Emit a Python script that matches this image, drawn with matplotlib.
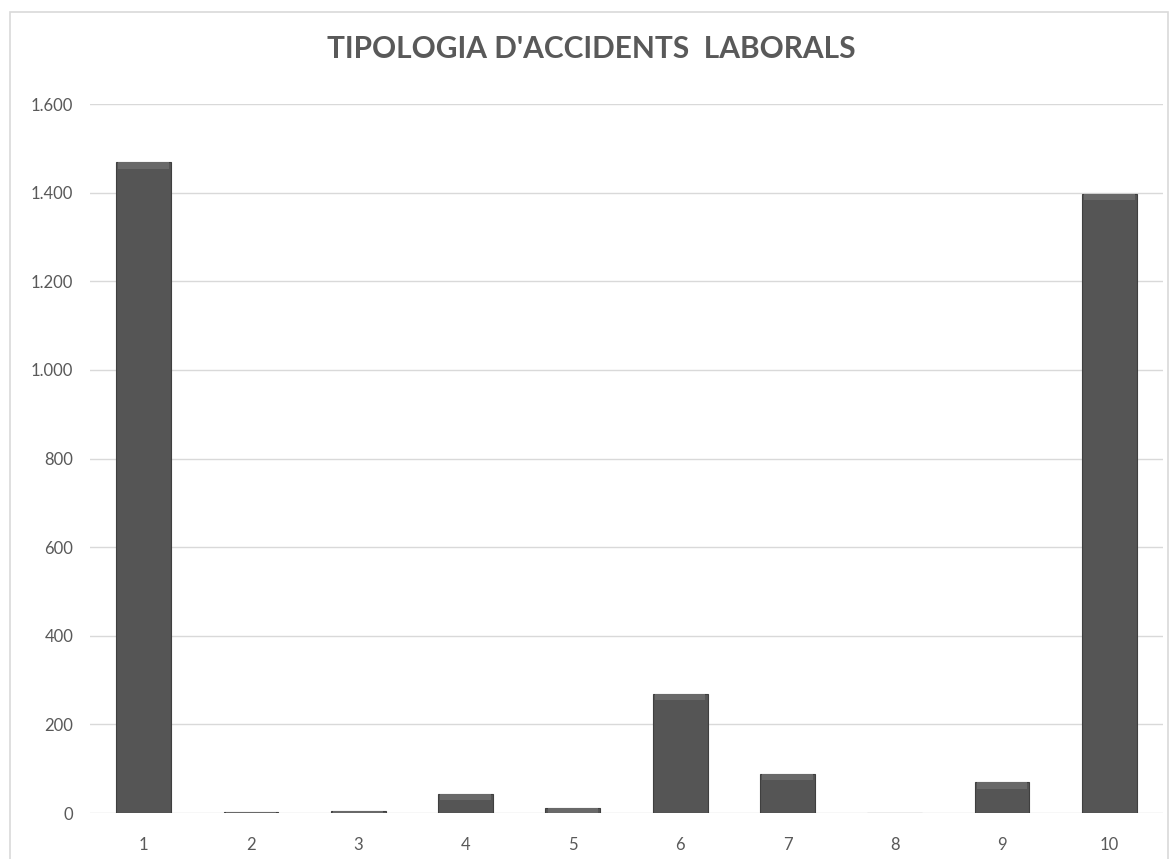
import matplotlib
matplotlib.use("Agg")
import matplotlib.pyplot as plt
from matplotlib.patches import Rectangle
from matplotlib.ticker import FuncFormatter

# tipologia 1..10
categories = ["1", "2", "3", "4", "5", "6", "7", "8", "9", "10"]
values = [1468, 3, 4, 44, 11, 268, 88, 0, 69, 1398]
yticks = [0, 200, 400, 600, 800, 1000, 1200, 1400, 1600]
title = "TIPOLOGIA D'ACCIDENTS  LABORALS"

plt.rcParams["font.family"] = ["Lato", "DejaVu Sans"]
txt = "#595959"
grid = "#d9d9d9"

fig = plt.figure(figsize=(11.76, 8.59), dpi=100)
fig.patches.append(Rectangle((10 / 1176, -0.05), 1158 / 1176, 1.05 - 12 / 859,
                             transform=fig.transFigure, fill=False,
                             edgecolor=grid, linewidth=1.2))
ax = fig.add_axes([90 / 1176, 46 / 859, 1073 / 1176, 709 / 859])

x = range(len(categories))
ax.bar(x, values, width=0.51, color="#555555", edgecolor="#3f3f3f",
       linewidth=0.8, zorder=3)
# lighter bevel at the top of each bar
tops = [max(v - 14, 0) for v in values]
ax.bar(x, [v - t for v, t in zip(values, tops)], bottom=tops, width=0.47,
       color="#696969", linewidth=0, zorder=4)

ax.set_xlim(-0.5, len(categories) - 0.5)
ax.set_ylim(0, 1600)
ax.set_yticks(yticks)
ax.yaxis.set_major_formatter(FuncFormatter(lambda v, p: f"{int(v):,}".replace(",", ".")))
ax.set_xticks(list(x))
ax.set_xticklabels(categories)
ax.tick_params(length=0, colors=txt, labelsize=12)
ax.tick_params(axis="y", pad=12)
ax.tick_params(axis="x", pad=17)
ax.grid(axis="y", color=grid, linewidth=1, zorder=0)
for s in ax.spines.values():
    s.set_visible(False)

fig.text(0.503, 0.943, title, ha="center", va="center", fontsize=21.5,
         fontweight="bold", color=txt)

fig.savefig("out.png", dpi=100)
